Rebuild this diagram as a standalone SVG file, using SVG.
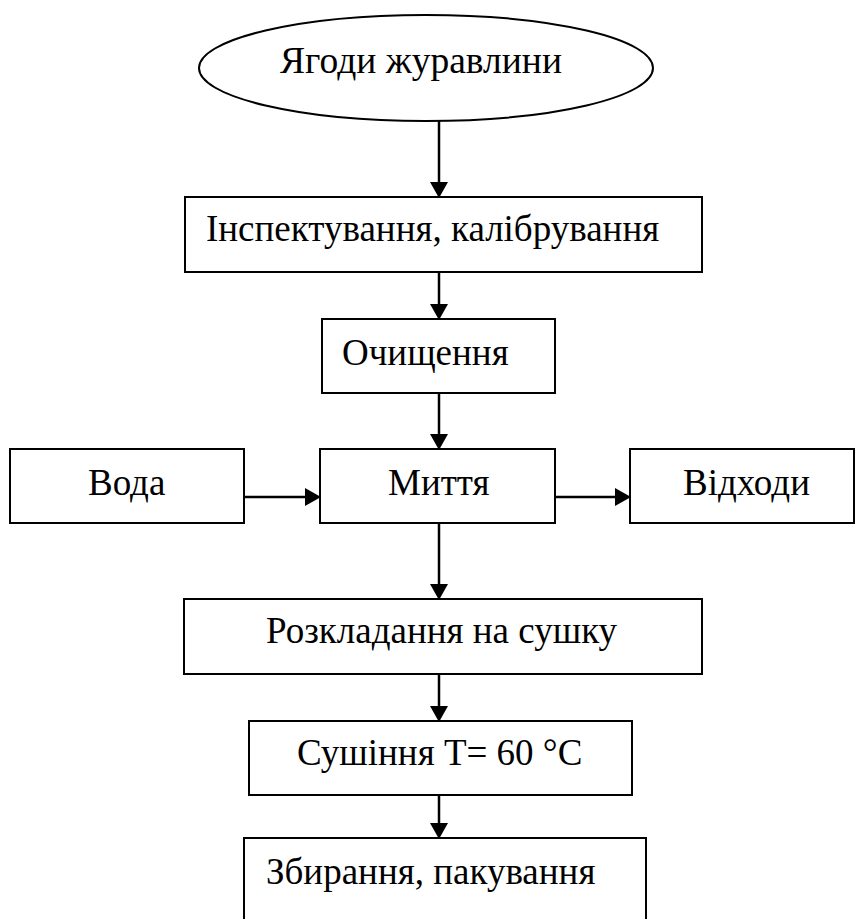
<svg xmlns="http://www.w3.org/2000/svg" width="856" height="919" viewBox="0 0 856 919">
<defs>
<style>
.box{fill:#fff;stroke:#000;stroke-width:2}
.lbl{font-family:'Liberation Serif','Times New Roman',serif;font-size:37px;fill:#000}
.conn{stroke:#000;stroke-width:2.5;fill:none}
.head{fill:#000}
</style>
</defs>
<rect width="856" height="919" fill="#fff"/>
<g id="connectors">
<line class="conn" x1="439" y1="121" x2="439" y2="183"/>
<polygon class="head" points="430,182 448,182 439,198"/>
<line class="conn" x1="439" y1="272" x2="439" y2="305"/>
<polygon class="head" points="430,304 448,304 439,320"/>
<line class="conn" x1="439" y1="393" x2="439" y2="435"/>
<polygon class="head" points="430,434 448,434 439,450"/>
<line class="conn" x1="244" y1="497" x2="306" y2="497"/>
<polygon class="head" points="305,488 305,506 321,497"/>
<line class="conn" x1="555" y1="497" x2="616" y2="497"/>
<polygon class="head" points="615,488 615,506 631,497"/>
<line class="conn" x1="439" y1="523" x2="439" y2="585"/>
<polygon class="head" points="430,584 448,584 439,600"/>
<line class="conn" x1="439" y1="674" x2="439" y2="707"/>
<polygon class="head" points="430,706 448,706 439,722"/>
<line class="conn" x1="439" y1="795" x2="439" y2="824"/>
<polygon class="head" points="430,823 448,823 439,839"/>
</g>
<g id="n_start">
<ellipse class="box" cx="426" cy="68" rx="227" ry="53"/>
<text class="lbl" x="280" y="73" textLength="282" lengthAdjust="spacingAndGlyphs">Ягоди журавлини</text>
</g>
<g id="n_inspect">
<rect class="box" x="185" y="197" width="517" height="75"/>
<text class="lbl" x="206" y="241">Інспектування, калібрування</text>
</g>
<g id="n_clean">
<rect class="box" x="322" y="319" width="233" height="74"/>
<text class="lbl" x="342" y="365">Очищення</text>
</g>
<g id="n_water">
<rect class="box" x="10" y="449" width="234" height="74"/>
<text class="lbl" x="88" y="495">Вода</text>
</g>
<g id="n_wash">
<rect class="box" x="320" y="449" width="235" height="74"/>
<text class="lbl" x="388" y="495">Миття</text>
</g>
<g id="n_waste">
<rect class="box" x="630" y="449" width="224" height="74"/>
<text class="lbl" x="683" y="495">Відходи</text>
</g>
<g id="n_lay">
<rect class="box" x="184" y="599" width="518" height="75"/>
<text class="lbl" x="266" y="643">Розкладання на сушку</text>
</g>
<g id="n_dry">
<rect class="box" x="249" y="721" width="383" height="74"/>
<text class="lbl" x="297" y="765">Сушіння Т= 60 °С</text>
</g>
<g id="n_pack">
<rect class="box" x="244" y="838" width="402" height="100"/>
<text class="lbl" x="266" y="884">Збирання, пакування</text>
</g>
</svg>
